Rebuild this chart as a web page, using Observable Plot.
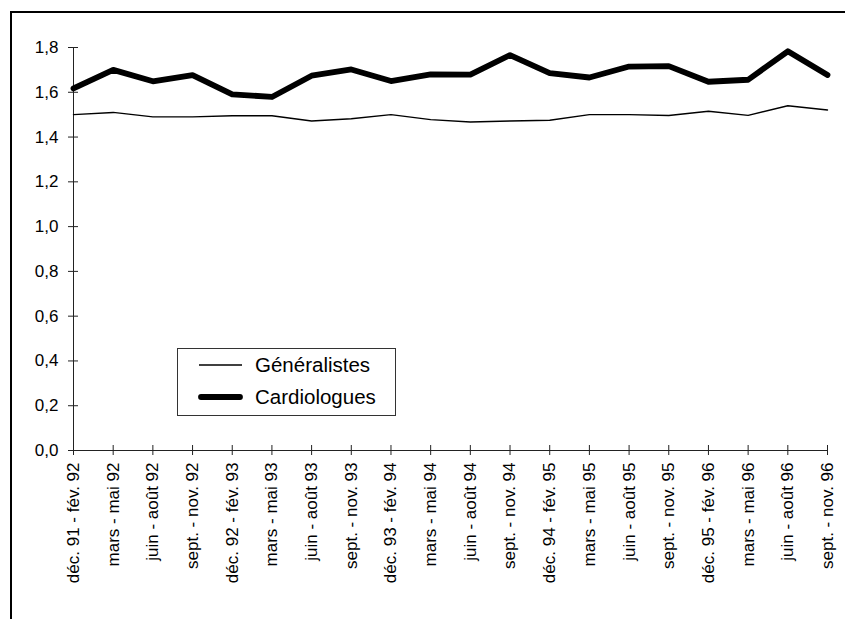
<!DOCTYPE html>
<html>
<head>
<meta charset="utf-8">
<script src="https://cdn.jsdelivr.net/npm/d3@7"></script>
<script src="https://cdn.jsdelivr.net/npm/@observablehq/plot@0.6"></script>
<style>
  html, body { margin: 0; padding: 0; background: #fff; overflow: hidden; width: 845px; height: 619px; }
  #frame { position: absolute; left: 10px; top: 11px; width: 900px; height: 700px;
           border-left: 2px solid #000; border-top: 2px solid #000; box-sizing: border-box; }
  #chart { position: absolute; left: 0; top: 0; }
  #legend { position: absolute; left: 177px; top: 348px; width: 219px; height: 68px;
            border: 1px solid #333; box-sizing: border-box; background: #fff;
            font-family: "Liberation Sans", Arial, sans-serif; font-size: 20.5px; color: #000; }
  .row { position: absolute; left: 0; height: 26px; display: flex; align-items: center; }
  .row svg { margin-left: 20px; }
  .row span { margin-left: 12px; }
</style>
</head>
<body>
<div id="frame"></div>
<div id="chart"></div>
<div id="legend">
  <div class="row" style="top:3px"><svg width="45" height="10"><line x1="1" y1="5" x2="44" y2="5" stroke="#000" stroke-width="1.4"/></svg><span>Généralistes</span></div>
  <div class="row" style="top:35px"><svg width="45" height="10"><line x1="3" y1="5" x2="42" y2="5" stroke="#000" stroke-width="5.8" stroke-linecap="round"/></svg><span>Cardiologues</span></div>
</div>
<script>
const categories = [
  "déc. 91 - fév. 92", "mars - mai 92", "juin - août 92", "sept. - nov. 92",
  "déc. 92 - fév. 93", "mars - mai 93", "juin - août 93", "sept. - nov. 93",
  "déc. 93 - fév. 94", "mars - mai 94", "juin - août 94", "sept. - nov. 94",
  "déc. 94 - fév. 95", "mars - mai 95", "juin - août 95", "sept. - nov. 95",
  "déc. 95 - fév. 96", "mars - mai 96", "juin - août 96", "sept. - nov. 96"
];
const generalistes = [1.50, 1.51, 1.49, 1.49, 1.495, 1.495, 1.472, 1.482, 1.50, 1.478,
                      1.467, 1.472, 1.475, 1.50, 1.50, 1.496, 1.515, 1.497, 1.54, 1.521];
const cardiologues = [1.617, 1.70, 1.649, 1.677, 1.591, 1.579, 1.674, 1.702, 1.65, 1.68,
                      1.679, 1.766, 1.686, 1.666, 1.715, 1.717, 1.647, 1.656, 1.783, 1.677];
const yTicks = [0, 0.2, 0.4, 0.6, 0.8, 1.0, 1.2, 1.4, 1.6, 1.8];

const gen = categories.map((c, i) => ({cat: c, v: generalistes[i]}));
const car = categories.map((c, i) => ({cat: c, v: cardiologues[i]}));
const fmt = d => d.toFixed(1).replace(".", ",");

const chart = Plot.plot({
  width: 845,
  height: 619,
  marginLeft: 73,
  marginRight: 18,
  marginTop: 47,
  marginBottom: 169,
  style: {fontFamily: "'Liberation Sans', Arial, sans-serif", fontSize: "17px", color: "#000", background: "transparent"},
  x: {type: "point", domain: categories, padding: 0, round: false, label: null},
  y: {domain: [0, 1.8], label: null},
  marks: [
    Plot.axisY(yTicks, {tickSize: 10, dx: 5, tickPadding: 10, tickFormat: fmt, stroke: "#222", label: null, fontSize: 17}),
    Plot.axisX({tickSize: 10, dy: -5, tickPadding: 7, tickRotate: -90, stroke: "#222", label: null, fontSize: 17}),
    Plot.ruleX([categories[0]], {y1: 0, y2: 1.8, stroke: "#222"}),
    Plot.ruleY([0], {stroke: "#222"}),
    Plot.line(gen, {x: "cat", y: "v", stroke: "#000", strokeWidth: 1.4}),
    Plot.line(car, {x: "cat", y: "v", stroke: "#000", strokeWidth: 5.8})
  ]
});
document.getElementById("chart").appendChild(chart);
</script>
</body>
</html>
